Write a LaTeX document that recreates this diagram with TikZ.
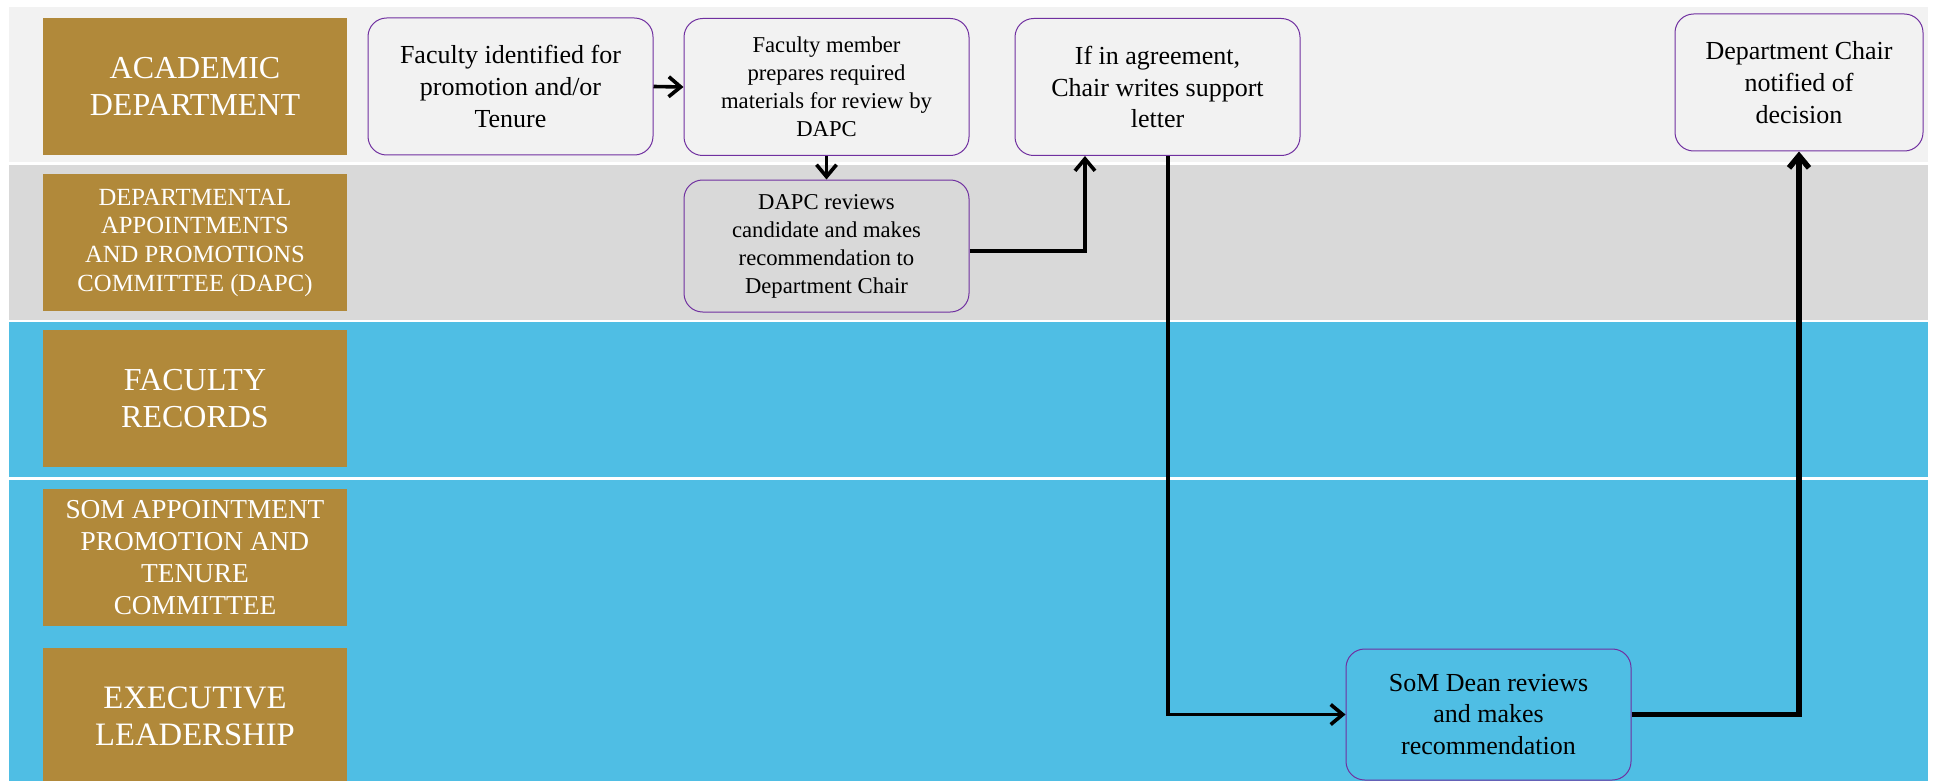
\documentclass[tikz,border=0pt]{standalone}
\usepackage{fontspec}
\setmainfont{Liberation Serif}
\usetikzlibrary{arrows.meta}

\definecolor{laneLight}{RGB}{242,242,242}
\definecolor{laneGray}{RGB}{217,217,217}
\definecolor{laneBlue}{RGB}{79,190,228}
\definecolor{laneGold}{RGB}{177,137,58}
\definecolor{boxPurple}{RGB}{112,48,160}

\tikzset{every picture/.style={line width=0.75pt}}
\tikzset{
  lanelabel/.style={fill=laneGold, text=white, inner sep=0pt, minimum width=228pt, minimum height=102.75pt, align=center},
  stepbox/.style={draw=boxPurple, rounded corners=14pt, inner sep=0pt, minimum width=213.75pt, minimum height=102.75pt, align=center, font=\fontsize{19.5}{23.8}\selectfont},
  flow/.style={line width=2.7pt, -{Straight Barb[length=9pt,width=15pt]}}
}

\begin{document}
\begin{tikzpicture}[x=0.75pt,y=0.75pt,yscale=-1,xscale=1]
\clip (0,0) rectangle (1933,781);
\fill[white] (0,0) rectangle (1933,781);

%Shape: Rectangle (swim lanes)
\fill[laneLight] (9,7) rectangle (1928,162);
\fill[laneGray] (9,165) rectangle (1928,320);
\fill[laneBlue] (9,322) rectangle (1928,477);
\fill[laneBlue] (9,480) rectangle (1928,635);
\fill[laneBlue] (9,635) rectangle (1928,781);

% Lane labels
\node[lanelabel, font=\fontsize{24}{27.5}\selectfont] (acadLane) at (195,86.5) {ACADEMIC\\DEPARTMENT};
\node[lanelabel, font=\fontsize{18.5}{21.5}\selectfont] (dapcLane) at (195,242.5) {DEPARTMENTAL\\APPOINTMENTS\\AND PROMOTIONS\\COMMITTEE (DAPC)};
\node[lanelabel, font=\fontsize{24}{27.5}\selectfont] (recordsLane) at (195,398.5) {FACULTY\\RECORDS};
\node[lanelabel, font=\fontsize{20.5}{24}\selectfont] (somLane) at (195,557.5) {SOM APPOINTMENT\\PROMOTION AND\\TENURE\\COMMITTEE};
\node[lanelabel, font=\fontsize{24.5}{27.5}\selectfont] (execLane) at (195,716.5) {EXECUTIVE\\LEADERSHIP};

% Steps
\node[stepbox, fill=laneLight] (ident) at (510.5,86.5) {Faculty identified for\\promotion and/or\\Tenure};
\node[stepbox, fill=laneLight, font=\fontsize{17}{21}\selectfont] (prep) at (826.5,87) {Faculty member\\prepares required\\materials for review by\\DAPC};
\node[stepbox, fill=laneGray, font=\fontsize{17}{21}\selectfont, minimum height=99pt] (dapc) at (826.5,246) {DAPC reviews\\candidate and makes\\recommendation to\\Department Chair};
\node[stepbox, fill=laneLight] (agree) at (1157.5,87) {If in agreement,\\Chair writes support\\letter};
\node[stepbox, fill=laneLight, minimum width=186pt] (chair) at (1799,82.5) {Department Chair\\notified of\\decision};
\node[stepbox, fill=laneBlue, minimum height=98.25pt] (dean) at (1488.5,714.5) {SoM Dean reviews\\and makes\\recommendation};

%Straight Lines
\draw[flow] (ident.east) -- (prep.west);
\draw[flow] (prep) -- (dapc);
\draw[flow] ([yshift=3.75pt]dapc.east) -| ([xshift=-54.4pt]agree.south);
\draw[flow] ([xshift=7.9pt]agree.south) |- (dean.west);
\draw[flow, line width=4.2pt] (dean.east) -| (chair.south);

\end{tikzpicture}
\end{document}
